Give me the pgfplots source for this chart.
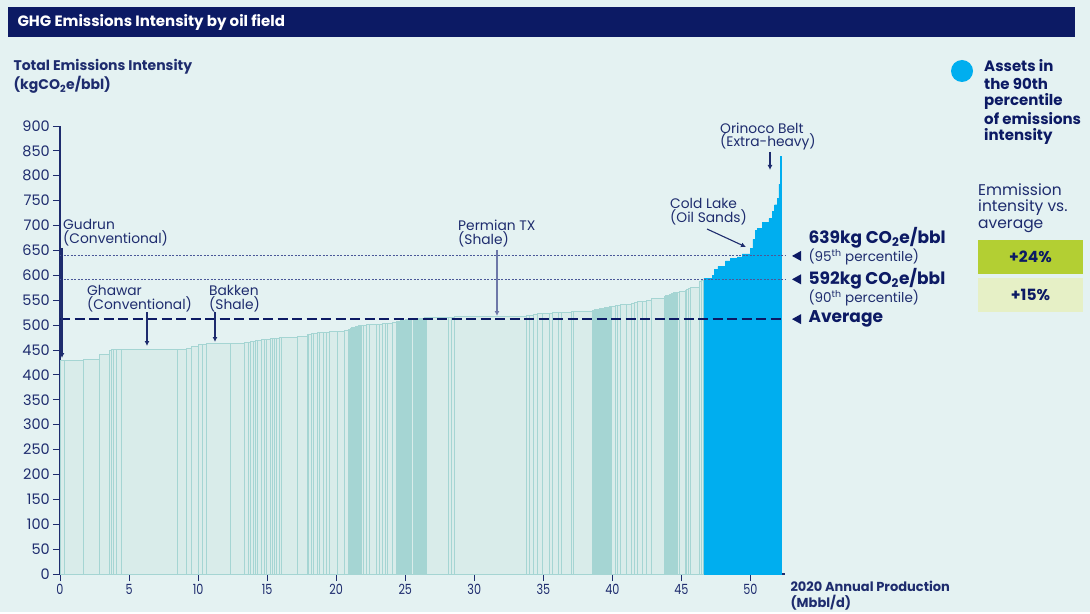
\documentclass[border=0pt]{standalone}
\usepackage{fontspec}
\setmainfont{Poppins}
\usepackage{pgfplots}
\pgfplotsset{compat=1.18}
\usetikzlibrary{arrows.meta}

\definecolor{bg}{HTML}{E4F2F2}
\definecolor{navy}{HTML}{0C1A64}
\definecolor{ink}{HTML}{1E2C6E}
\definecolor{tealline}{HTML}{A5D5D3}
\definecolor{tealfill}{HTML}{D9ECEA}
\definecolor{cblue}{HTML}{00AEEF}
\definecolor{lime}{HTML}{B3CF33}
\definecolor{palelime}{HTML}{E6F0C6}
\definecolor{dotline}{HTML}{4A5898}
\definecolor{softink}{HTML}{6D78A8}

\newcommand{\annfont}{\fontsize{13.8}{14}\selectfont}

\begin{document}
\begin{tikzpicture}[x=1pt,y=1pt]
% canvas and title band
\fill[bg] (0,0) rectangle (1090,-612);
\fill[navy] (8,-7) rectangle (1075,-37);
\node[anchor=west, text=white, font=\fontsize{15}{16}\bfseries\selectfont] at (14,-22) {GHG Emissions Intensity by oil field};

% axis titles
\node[anchor=west, text=ink, font=\fontsize{14}{15}\bfseries\selectfont] at (10,-67) {Total Emissions Intensity};
\node[anchor=west, text=ink, font=\fontsize{14}{15}\bfseries\selectfont] at (10,-85) {(kgCO\textsubscript{2}e/bbl)};
\node[anchor=west, text=ink, font=\fontsize{13}{14}\bfseries\selectfont] at (787,-586) {2020 Annual Production};
\node[anchor=west, text=ink, font=\fontsize{13}{14}\bfseries\selectfont] at (787,-603) {(Mbbl/d)};

\begin{axis}[
  at={(60pt,-574pt)}, anchor=south west,
  scale only axis, width=725pt, height=448pt,
  xmin=0, xmax=52.5, ymin=0, ymax=900,
  axis x line=bottom, axis y line=left,
  axis line style={-, draw=ink, line width=1.3pt},
  x axis line style={line width=2pt},
  xtick={0,5,...,50}, ytick={0,50,...,900},
  tick align=outside, major tick length=7pt,
  tick style={draw=ink, line width=1pt},
  /pgf/number format/assume math mode=true,
  yticklabel style={font=\fontsize{14.5}{15}\selectfont, text=ink, inner sep=3pt},
  xticklabel style={font=\fontsize{14}{15}\selectfont, text=ink, xscale=0.8},
  clip=false,
]
% fields below the 90th percentile: (start of field on cumulative production, intensity)
\addplot[ybar interval, fill=tealfill, draw=tealline, line width=1pt] coordinates {
(0.00,428) (0.30,429) (1.68,431) (2.84,440) (3.60,450) (3.72,451) (3.90,452) (4.06,452)
(4.48,452) (8.54,452) (9.15,453) (9.55,458) (10.06,461) (10.30,462) (10.58,463) (12.35,464)
(13.33,465) (13.66,466) (13.78,467) (14.03,468) (14.18,469) (14.33,470) (14.58,471) (14.79,471)
(14.94,472) (15.25,473) (15.40,473) (15.55,474) (15.71,474) (15.86,475) (16.01,475) (17.17,477)
(17.93,482) (18.00,482) (18.24,483) (18.39,484) (18.66,485) (18.82,485) (19.09,486) (19.30,486)
(19.52,487) (20.07,488) (20.59,490) (20.90,491) (20.96,492) (21.02,493) (21.08,494) (21.14,495)
(21.20,495) (21.26,496) (21.32,496) (21.38,497) (21.44,497) (21.50,498) (21.56,498) (21.62,499)
(21.68,499) (21.74,500) (21.80,500) (21.96,500) (22.20,501) (22.42,501) (22.93,502) (23.12,502)
(23.33,503) (23.54,503) (23.73,504) (24.09,505) (24.40,507) (24.46,507) (24.52,508) (24.58,508)
(24.64,509) (24.70,509) (24.76,509) (24.82,510) (24.88,510) (24.94,510) (25.00,511) (25.06,511)
(25.12,511) (25.18,511) (25.24,512) (25.30,512) (25.36,512) (25.42,512) (25.48,512) (25.60,513)
(25.66,513) (25.72,513) (25.78,513) (25.84,513) (25.90,513) (25.96,514) (26.02,514) (26.08,514)
(26.14,514) (26.20,514) (26.26,514) (26.32,514) (26.38,515) (26.44,515) (26.53,515) (28.15,516)
(28.37,516) (28.58,518) (33.79,519) (34.00,520) (34.30,521) (34.61,523) (34.92,523) (35.43,524)
(35.67,526) (36.13,526) (36.29,526) (37.05,527) (37.20,527) (38.58,530) (38.64,530) (38.70,531)
(38.76,531) (38.82,531) (38.88,532) (38.94,532) (39.00,532) (39.06,533) (39.12,533) (39.18,533)
(39.24,534) (39.30,534) (39.36,534) (39.42,535) (39.48,535) (39.54,535) (39.60,536) (39.66,536)
(39.72,536) (39.78,537) (39.84,537) (39.95,537) (40.20,540) (40.37,540) (40.56,541) (41.02,542)
(41.41,544) (41.60,545) (41.80,547) (42.20,548) (42.47,549) (42.80,554) (43.76,558) (43.82,558)
(43.88,559) (43.94,559) (44.00,560) (44.06,560) (44.12,561) (44.18,561) (44.24,562) (44.30,563)
(44.36,564) (44.42,565) (44.48,565) (44.54,565) (44.60,566) (44.66,566) (44.72,566) (44.83,567)
(45.29,570) (45.40,572) (45.50,574) (45.65,576) (46.29,587) (46.45,590) (46.62,0)
};
% fields in the 90th percentile
\addplot[ybar interval, fill=cblue, draw=cblue, line width=0.3pt] coordinates {
(46.62,594) (47.22,600) (47.39,612) (47.63,618) (48.19,629) (48.55,634) (49.03,637)
(49.40,643) (50.00,654) (50.17,672) (50.36,691) (50.48,695) (50.85,706) (51.33,714)
(51.57,728) (51.74,742) (51.93,755) (52.05,783) (52.17,839) (52.25,0)
};
% reference levels
\addplot[draw=dotline, line width=1pt, dash pattern=on 2pt off 1.5pt] coordinates {(0,639) (52.5,639)};
\addplot[draw=dotline, line width=1pt, dash pattern=on 2pt off 1.5pt] coordinates {(0,592) (52.5,592)};
\addplot[draw=navy, line width=2.6pt, dash pattern=on 10pt off 4.5pt] coordinates {(0,512) (52.5,512)};
\fill[navy] ([xshift=7pt]axis cs:52.5,639) -- ++(9pt,5pt) -- ++(0,-10pt) -- cycle;
\fill[navy] ([xshift=7pt]axis cs:52.5,592) -- ++(9pt,5pt) -- ++(0,-10pt) -- cycle;
\fill[navy] ([xshift=7pt]axis cs:52.5,512) -- ++(9pt,5pt) -- ++(0,-10pt) -- cycle;
\end{axis}

% level labels
\node[anchor=west, text=navy, font=\fontsize{17}{18}\bfseries\selectfont] at (805,-238) {639kg CO\textsubscript{2}e/bbl};
\node[anchor=west, text=ink, font=\fontsize{13.5}{14}\selectfont] at (805,-257) {(95\textsuperscript{th} percentile)};
\node[anchor=west, text=navy, font=\fontsize{17}{18}\bfseries\selectfont] at (805,-279) {592kg CO\textsubscript{2}e/bbl};
\node[anchor=west, text=ink, font=\fontsize{13.5}{14}\selectfont] at (805,-298) {(90\textsuperscript{th} percentile)};
\node[anchor=west, text=navy, font=\fontsize{17}{18}\bfseries\selectfont] at (805,-319) {Average};

% field call-outs
\begin{scope}[every node/.style={anchor=west, text=ink, font=\annfont, inner sep=0pt}]
\node at (63,-224) {Gudrun};
\node at (63,-238) {(Conventional)};
\node at (87,-290) {Ghawar};
\node at (87,-304) {(Conventional)};
\node at (209,-290) {Bakken};
\node at (209,-304) {(Shale)};
\node at (458,-225) {Permian TX};
\node at (458,-239) {(Shale)};
\node at (670,-203) {Cold Lake};
\node at (670,-217) {(Oil Sands)};
\node at (720,-128) {Orinoco Belt};
\node at (720,-142) {(Extra-heavy)};
\end{scope}
\begin{scope}[line width=1.1pt, -{Latex[length=5pt,width=5pt]}]
\draw[ink] (62,-248) -- (62,-358);
\draw[ink] (147,-312) -- (147,-346);
\draw[ink] (215,-312) -- (215,-342);
\draw[softink] (497,-250) -- (497,-316);
\draw[ink] (707,-229) -- (746,-247);
\draw[ink] (770,-152) -- (770,-170);
\end{scope}

% legend and comparison boxes
\fill[cblue] (962,-71) circle (11);
\begin{scope}[every node/.style={anchor=west, text=navy, font=\fontsize{15}{16}\bfseries\selectfont, inner sep=0pt}]
\node at (984,-66) {Assets in};
\node at (984,-84) {the 90th};
\node at (984,-101) {percentile};
\node at (984,-119) {of emissions};
\node at (984,-136) {intensity};
\end{scope}
\begin{scope}[every node/.style={anchor=west, text=ink, font=\fontsize{15.5}{16}\selectfont, inner sep=0pt}]
\node at (978,-190) {Emmission};
\node at (978,-208) {intensity vs.};
\node at (978,-226) {average};
\end{scope}
\fill[lime] (978,-240) rectangle (1083,-274);
\fill[palelime] (978,-278) rectangle (1083,-312);
\node[text=navy, font=\fontsize{15.5}{16}\bfseries\selectfont] at (1030.5,-257) {+24\%};
\node[text=navy, font=\fontsize{15.5}{16}\bfseries\selectfont] at (1030.5,-295) {+15\%};
\end{tikzpicture}
\end{document}
